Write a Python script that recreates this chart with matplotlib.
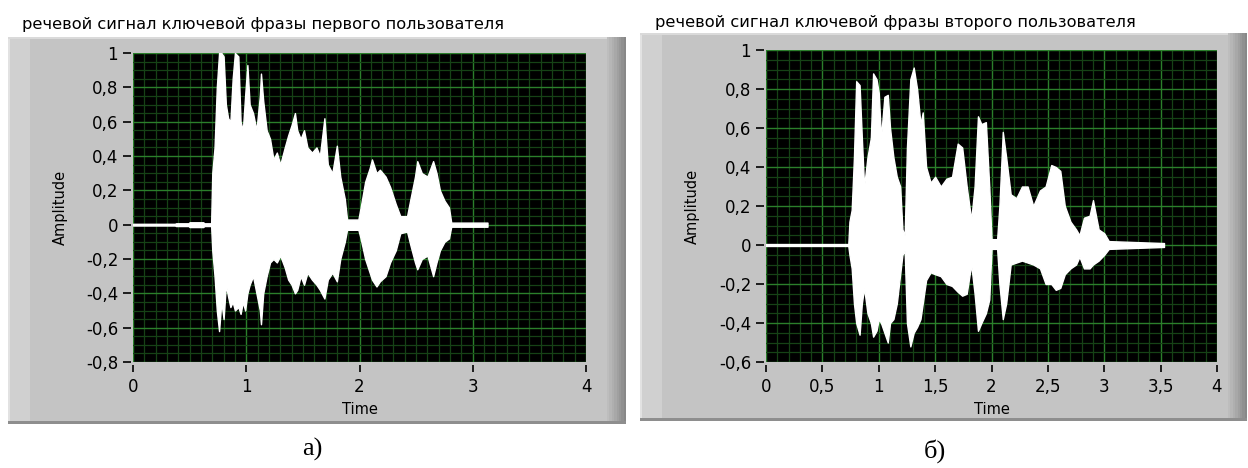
import matplotlib.pyplot as plt
from matplotlib.patches import Rectangle
from matplotlib.ticker import MultipleLocator, FuncFormatter

# --- data (envelope of the speech waveforms) ---
titles = ["речевой сигнал ключевой фразы первого пользователя",
          "речевой сигнал ключевой фразы второго пользователя"]
captions = ["а)", "б)"]

t1 = [0.00, 0.37, 0.38, 0.49, 0.50, 0.62, 0.63, 0.69, 0.70, 0.72, 0.74, 0.76,
      0.78, 0.80, 0.82, 0.84, 0.86, 0.88, 0.90, 0.93, 0.95, 0.97, 0.99, 1.01,
      1.03, 1.06, 1.09, 1.12, 1.13, 1.15, 1.18, 1.21, 1.24, 1.27, 1.30, 1.34,
      1.37, 1.40, 1.43, 1.45, 1.48, 1.51, 1.54, 1.58, 1.62, 1.65, 1.69, 1.72,
      1.76, 1.80, 1.83, 1.87, 1.89, 1.99, 2.01, 2.05, 2.09, 2.11, 2.15, 2.18,
      2.23, 2.27, 2.32, 2.36, 2.42, 2.45, 2.49, 2.51, 2.55, 2.60, 2.65, 2.68,
      2.71, 2.75, 2.79, 2.81, 3.13]
hi1 = [0.005, 0.005, 0.008, 0.008, 0.014, 0.014, 0.008, 0.008, 0.30, 0.45, 0.80, 1.00,
       1.00, 0.98, 0.70, 0.62, 0.60, 0.85, 1.00, 0.98, 0.60, 0.55, 0.75, 0.93,
       0.70, 0.65, 0.55, 0.75, 0.88, 0.72, 0.55, 0.50, 0.38, 0.42, 0.35, 0.45,
       0.52, 0.58, 0.65, 0.55, 0.50, 0.55, 0.45, 0.42, 0.45, 0.40, 0.62, 0.35,
       0.30, 0.46, 0.28, 0.15, 0.03, 0.03, 0.10, 0.25, 0.33, 0.38, 0.30, 0.32,
       0.28, 0.22, 0.12, 0.05, 0.05, 0.15, 0.28, 0.37, 0.30, 0.28, 0.37, 0.30,
       0.20, 0.14, 0.10, 0.012, 0.012]
lo1 = [-0.005, -0.005, -0.008, -0.008, -0.014, -0.014, -0.008, -0.008, -0.15, -0.30, -0.50, -0.62,
       -0.45, -0.55, -0.35, -0.42, -0.48, -0.45, -0.50, -0.48, -0.52, -0.45, -0.50, -0.40,
       -0.35, -0.30, -0.40, -0.50, -0.58, -0.40, -0.30, -0.22, -0.20, -0.22, -0.18, -0.25,
       -0.32, -0.35, -0.40, -0.38, -0.30, -0.35, -0.28, -0.32, -0.35, -0.38, -0.43, -0.32,
       -0.28, -0.33, -0.20, -0.10, -0.03, -0.03, -0.08, -0.20, -0.28, -0.32, -0.36, -0.33,
       -0.30, -0.22, -0.15, -0.05, -0.04, -0.12, -0.22, -0.26, -0.20, -0.18, -0.30, -0.22,
       -0.15, -0.10, -0.08, -0.012, -0.012]

t2 = [0.00, 0.73, 0.74, 0.76, 0.78, 0.80, 0.83, 0.85, 0.87, 0.90, 0.93, 0.95,
      0.98, 1.00, 1.02, 1.05, 1.08, 1.10, 1.13, 1.16, 1.19, 1.21, 1.23, 1.25,
      1.28, 1.31, 1.34, 1.37, 1.39, 1.42, 1.46, 1.50, 1.55, 1.60, 1.65, 1.70,
      1.74, 1.78, 1.82, 1.85, 1.88, 1.91, 1.95, 1.98, 2.00, 2.05, 2.07, 2.10,
      2.13, 2.17, 2.22, 2.27, 2.32, 2.37, 2.43, 2.48, 2.53, 2.57, 2.61, 2.65,
      2.70, 2.75, 2.78, 2.82, 2.87, 2.90, 2.95, 3.00, 3.04, 3.53]
hi2 = [0.005, 0.005, 0.12, 0.18, 0.45, 0.84, 0.82, 0.55, 0.30, 0.45, 0.55, 0.88,
       0.85, 0.78, 0.55, 0.76, 0.77, 0.60, 0.45, 0.35, 0.30, 0.08, 0.05, 0.50,
       0.85, 0.91, 0.80, 0.62, 0.68, 0.40, 0.32, 0.35, 0.30, 0.34, 0.35, 0.52,
       0.50, 0.30, 0.13, 0.30, 0.66, 0.62, 0.63, 0.30, 0.03, 0.03, 0.20, 0.58,
       0.45, 0.26, 0.24, 0.30, 0.30, 0.20, 0.28, 0.30, 0.41, 0.40, 0.38, 0.20,
       0.12, 0.08, 0.05, 0.14, 0.15, 0.23, 0.08, 0.06, 0.02, 0.01]
lo2 = [-0.005, -0.005, -0.05, -0.12, -0.30, -0.40, -0.46, -0.30, -0.22, -0.35, -0.40, -0.47,
       -0.44, -0.38, -0.40, -0.45, -0.50, -0.40, -0.38, -0.30, -0.15, -0.05, -0.03, -0.40,
       -0.52, -0.45, -0.42, -0.38, -0.30, -0.18, -0.14, -0.15, -0.16, -0.20, -0.21, -0.24,
       -0.26, -0.25, -0.10, -0.25, -0.44, -0.40, -0.35, -0.28, -0.02, -0.02, -0.20, -0.38,
       -0.30, -0.10, -0.09, -0.08, -0.09, -0.10, -0.12, -0.20, -0.20, -0.23, -0.22, -0.15,
       -0.12, -0.10, -0.06, -0.12, -0.12, -0.10, -0.08, -0.05, -0.02, -0.01]

W, H = 1248, 468
fig = plt.figure(figsize=(W / 100, H / 100), dpi=100)
fig.patch.set_facecolor('white')


def rect(x0, y0, x1, y1, color):
    fig.patches.append(Rectangle((x0 / W, 1 - y1 / H), (x1 - x0) / W, (y1 - y0) / H,
                                 transform=fig.transFigure, facecolor=color,
                                 edgecolor='none', zorder=-10))


def frame(x0, y0, x1, y1):
    # grey LabVIEW-like panel with a bevel
    rect(x0, y0, x1, y1, '#c4c4c4')
    rect(x0, y0, x0 + 22, y1, '#d0d0d0')
    rect(x0, y0, x0 + 2, y1, '#e2e2e2')
    rect(x0, y0, x1, y0 + 2, '#dadada')
    shades = ['#bdbdbd', '#b6b6b6', '#afafaf', '#a8a8a8', '#a0a0a0', '#989898', '#909090', '#888888']
    for i, c in enumerate(shades):
        rect(x1 - 19 + i * 2.4, y0, x1, y1, c)
    rect(x0, y1 - 3, x1, y1, '#8e8e8e')


def fmt(v, pos):
    v = round(v, 2)
    if v == 0:
        return '0'
    return ('%g' % v).replace('.', ',')


panels = [
    dict(frame=(8, 37, 626, 424), plot=(133, 53, 586, 362), ylim=(-0.8, 1.0),
         xmaj=1.0, t=t1, hi=hi1, lo=lo1, ylab_x=68, title_xy=(22, 25), cap_xy=(312, 449)),
    dict(frame=(640, 33, 1247, 421), plot=(766, 50, 1217, 362), ylim=(-0.6, 1.0),
         xmaj=0.5, t=t2, hi=hi2, lo=lo2, ylab_x=700, title_xy=(655, 22), cap_xy=(935, 451)),
]

for i, p in enumerate(panels):
    frame(*p['frame'])
    x0, y0, x1, y1 = p['plot']
    ax = fig.add_axes([x0 / W, 1 - y1 / H, (x1 - x0) / W, (y1 - y0) / H])
    ax.set_facecolor('black')
    ax.fill_between(p['t'], p['lo'], p['hi'], color='white', lw=1.0, zorder=3)
    ax.set_xlim(0, 4)
    ax.set_ylim(*p['ylim'])

    ax.xaxis.set_major_locator(MultipleLocator(p['xmaj']))
    ax.xaxis.set_minor_locator(MultipleLocator(0.1))
    ax.yaxis.set_major_locator(MultipleLocator(0.2))
    ax.yaxis.set_minor_locator(MultipleLocator(0.05))
    ax.xaxis.set_major_formatter(FuncFormatter(fmt))
    ax.yaxis.set_major_formatter(FuncFormatter(fmt))
    ax.set_axisbelow(True)
    ax.grid(which='minor', color='#164216', lw=0.9)
    ax.grid(which='major', color='#2b7f2b', lw=1.0)

    for s in ax.spines.values():
        s.set_visible(False)
    ax.spines['left'].set_position(('outward', 1.7))
    ax.spines['bottom'].set_position(('outward', 2.2))
    ax.tick_params(which='minor', length=0)
    ax.tick_params(axis='y', which='major', length=5.8, width=1.2, pad=3.2,
                   labelsize=12, color='black')
    ax.tick_params(axis='x', which='major', length=5, width=1.2, pad=4,
                   labelsize=12, color='black')

    ax.set_ylabel('Amplitude', fontsize=10.5)
    ax.yaxis.set_label_coords((p['ylab_x'] - x0) / (x1 - x0), 0.5)
    ax.set_xlabel('Time', fontsize=10.5)
    ax.xaxis.label.set_va('center')
    ax.xaxis.set_label_coords(0.5, (y1 - 410) / (y1 - y0))

    tx, ty = p['title_xy']
    fig.text(tx / W, 1 - ty / H, titles[i], fontsize=11.7, va='center', ha='left')
    cx, cy = p['cap_xy']
    fig.text(cx / W, 1 - cy / H, captions[i], fontsize=19, va='center', ha='center',
             family='Liberation Serif')

fig.savefig('out.png', dpi=100)
